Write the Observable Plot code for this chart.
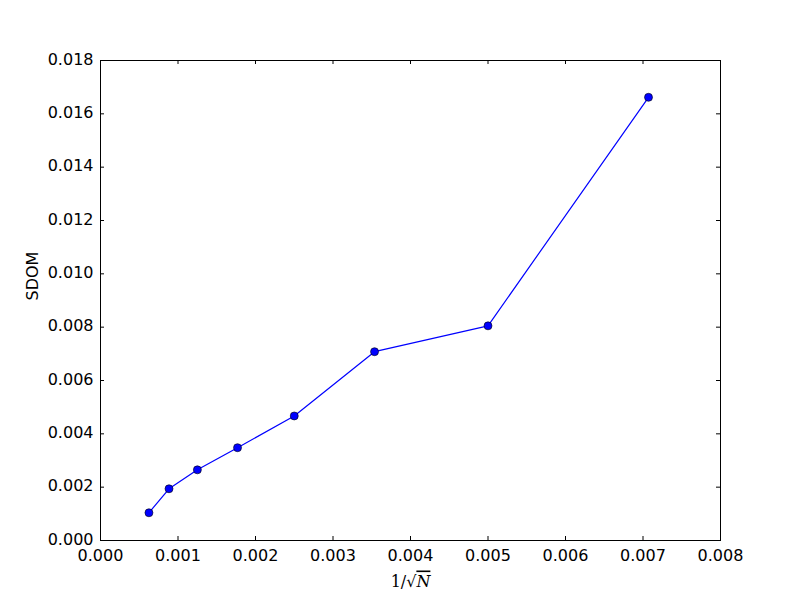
<!DOCTYPE html>
<html>
<head>
<meta charset="utf-8">
<script src="https://cdn.jsdelivr.net/npm/d3@7"></script>
<script src="https://cdn.jsdelivr.net/npm/@observablehq/plot@0.6"></script>
<style>
  html, body { margin: 0; padding: 0; background: #fff; }
  svg { font-family: "DejaVu Sans", sans-serif; }
</style>
</head>
<body>
<div id="chart"></div>
<script>
const invSqrtN = [0.000625, 0.000884, 0.00125, 0.001768, 0.0025, 0.003536, 0.005, 0.007071];
const sdom = [0.00104, 0.00194, 0.00265, 0.00348, 0.00467, 0.00708, 0.00805, 0.01662];
const xTicks = [0, 0.001, 0.002, 0.003, 0.004, 0.005, 0.006, 0.007, 0.008];
const yTicks = [0, 0.002, 0.004, 0.006, 0.008, 0.010, 0.012, 0.014, 0.016, 0.018];

const data = invSqrtN.map((x, i) => ({x, y: sdom[i]}));
const fmt = d3.format(".3f");

const W = 800, H = 600, ML = 100, MR = 80, MT = 60, MB = 60;
const pw = W - ML - MR, ph = H - MT - MB;

const plot = Plot.plot({
  width: W, height: H,
  marginLeft: ML, marginRight: MR, marginTop: MT, marginBottom: MB,
  style: {fontSize: "16px", fontFamily: "DejaVu Sans, sans-serif", color: "#000", background: "#fff"},
  x: {domain: [0, 0.008]},
  y: {domain: [0, 0.018]},
  marks: [
    Plot.axisX(xTicks, {tickSize: 0, tickPadding: 9, tickFormat: fmt, label: null, fontSize: 16}),
    Plot.axisY(yTicks, {tickSize: 0, tickPadding: 7, tickFormat: fmt, label: null, fontSize: 16, dy: -1}),
    Plot.tickX(xTicks, {x: d => d, insetTop: ph - 4, stroke: "#000", strokeWidth: 1}),
    Plot.tickX(xTicks, {x: d => d, insetBottom: ph - 4, stroke: "#000", strokeWidth: 1}),
    Plot.tickY(yTicks, {y: d => d, insetRight: pw - 4, stroke: "#000", strokeWidth: 1}),
    Plot.tickY(yTicks, {y: d => d, insetLeft: pw - 4, stroke: "#000", strokeWidth: 1}),
    Plot.line(data, {x: "x", y: "y", stroke: "#0000ff", strokeWidth: 1.2}),
    Plot.dot(data, {x: "x", y: "y", r: 4, fill: "#0000ff", stroke: "#000", strokeWidth: 0.6}),
    Plot.frame({stroke: "#000", strokeWidth: 1}),
    Plot.text(["SDOM"], {frameAnchor: "left", dx: -68, rotate: -90, fontSize: 16, fill: "#000"}),
    Plot.text(["1/√N"], {frameAnchor: "bottom", dy: 46, fontSize: 16, fill: "#000", className: "xlab"})
  ]
});
document.getElementById("chart").appendChild(plot);

// Render the x-axis label like math text: upright "1/√" and italic "N" with an overbar
const t = d3.select(plot).select("g.xlab text");
if (!t.empty()) {
  t.text(null).attr("font-family", "DejaVu Serif, serif");
  t.append("tspan").text("1/√");
  t.append("tspan").attr("font-style", "italic").attr("text-decoration", "overline").text("N");
}
</script>
</body>
</html>
